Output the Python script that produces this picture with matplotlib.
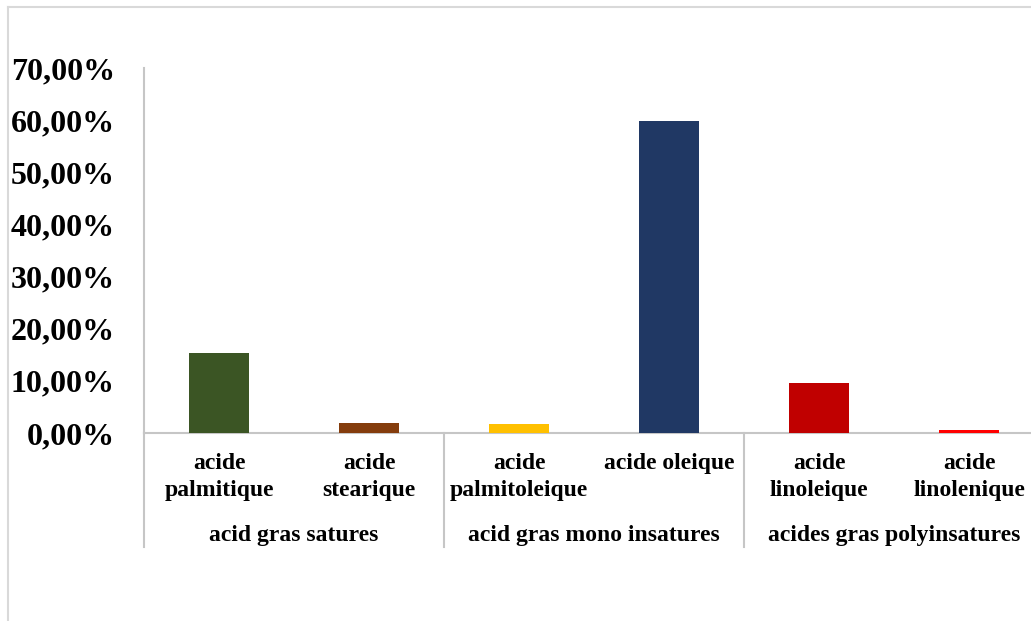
import matplotlib
matplotlib.use("Agg")
import matplotlib.pyplot as plt
from matplotlib.lines import Line2D
from matplotlib.ticker import FuncFormatter
import numpy as np

# data
acids = ["acide\npalmitique", "acide\nstearique", "acide\npalmitoleique",
         "acide oleique", "acide\nlinoleique", "acide\nlinolenique"]
groups = ["acid gras satures", "acid gras mono insatures", "acides gras polyinsatures"]
values = [15.3, 1.9, 1.7, 59.8, 9.6, 0.6]
colors = ["#3B5524", "#843C0C", "#FFC000", "#203864", "#C00000", "#FF0000"]

plt.rcParams['font.family'] = ['Liberation Serif', 'DejaVu Serif']
plt.rcParams['font.weight'] = 'bold'

W, H = 1031, 621
fig = plt.figure(figsize=(W / 100, H / 100), dpi=100)
# plot area runs past the right edge, the original picture is cropped there
ax = fig.add_axes([144 / W, (H - 433) / H, 900 / W, 365 / H])

x = np.arange(len(values))
ax.bar(x, values, width=0.4, color=colors, zorder=3)

ax.set_xlim(-0.5, len(values) - 0.5)
ax.set_ylim(0, 70)
ax.set_yticks(np.arange(0, 71, 10))
ax.yaxis.set_major_formatter(FuncFormatter(lambda v, p: "{:.2f}%".format(v).replace(".", ",")))
ax.tick_params(axis='y', length=0, pad=21, labelsize=23)
for lab in ax.get_yticklabels():
    lab.set_fontweight('bold')
ax.set_xticks([])

grey = "#c6c6c6"
for s in ['top', 'right']:
    ax.spines[s].set_visible(False)
ax.spines['left'].set_color(grey)
ax.spines['left'].set_linewidth(1.5)
ax.spines['bottom'].set_color(grey)
ax.spines['bottom'].set_linewidth(1.5)

# category labels (two levels)
trans = ax.get_xaxis_transform()
for i, name in enumerate(acids):
    ax.text(i, -0.055, name, transform=trans, ha='center', va='top',
            fontsize=17, fontweight='bold', linespacing=1.38)
for g, name in enumerate(groups):
    ax.text(2 * g + 0.5, -0.28, name, transform=trans, ha='center', va='center',
            fontsize=17, fontweight='bold')
for xd in [-0.5, 1.5, 3.5]:
    ax.plot([xd, xd], [0, -0.312], transform=trans, color=grey, lw=1.5, clip_on=False)

# outer chart frame
frame = "#d9d9d9"
fig.add_artist(Line2D([8 / W, 1], [1 - 7 / H, 1 - 7 / H], transform=fig.transFigure, color=frame, lw=1.5))
fig.add_artist(Line2D([8 / W, 8 / W], [0, 1 - 7 / H], transform=fig.transFigure, color=frame, lw=1.5))

fig.savefig("out.png", dpi=100)
